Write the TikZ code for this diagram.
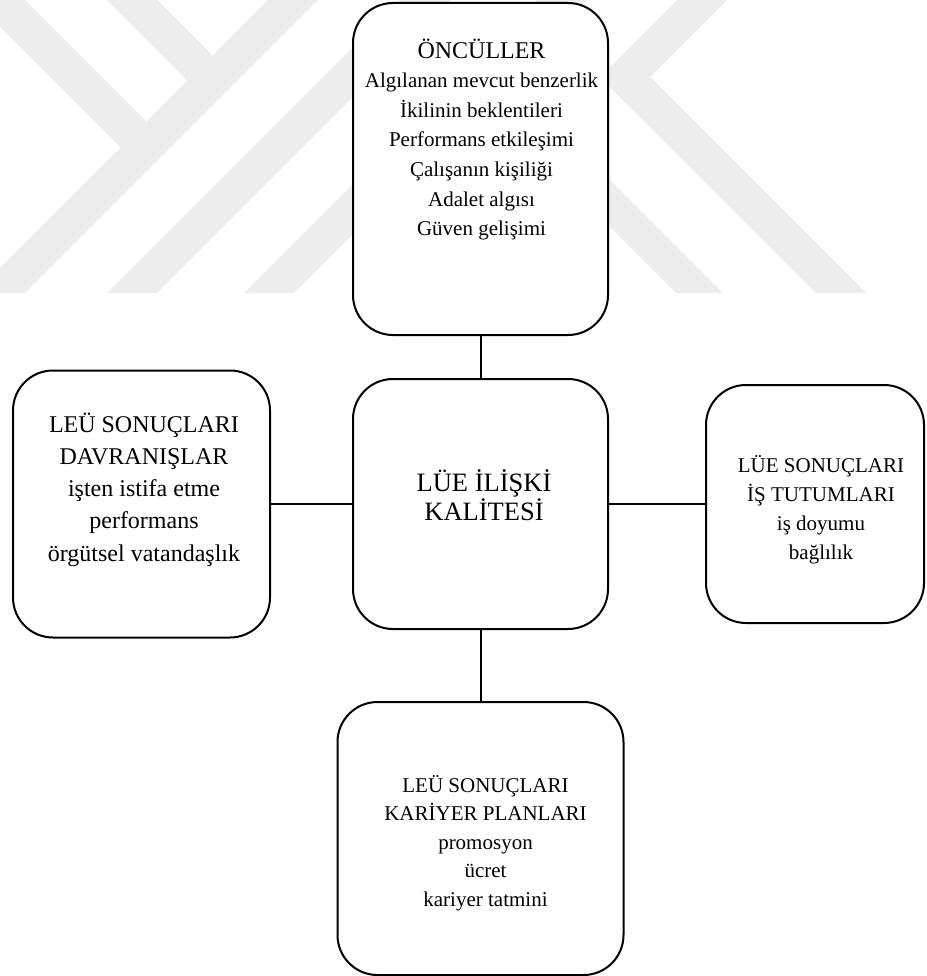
\documentclass[tikz,border=0pt]{standalone}
\usepackage{fontspec}
\setmainfont{Liberation Serif}
\begin{document}
\begin{tikzpicture}[x=1pt,y=-1pt,
  card/.style={draw=black, line width=2pt, fill=white, rounded corners=40pt, inner sep=0pt},
  txt/.style={align=center, inner sep=0pt, text=black},
  wire/.style={draw=black, line width=2pt},
  wmark/.style={fill=black!7, draw=none}]
\useasboundingbox (0,0) rectangle (926,976);

% faint chevron watermark in the upper part of the page
\begin{scope}
  \clip (0,0) rectangle (926,293);
  \fill[wmark] (-27,0) -- (25,0) -- (146.5,121.5) -- (120.5,147.5) -- cycle;
  \fill[wmark] (107,0) -- (157,0) -- (212.5,55.5) -- (187.5,80.5) -- cycle;
  \fill[wmark] (268,0) -- (318,0) -- (25,293) -- (-25,293) -- cycle;
  \fill[wmark] (400,0) -- (450,0) -- (157,293) -- (107,293) -- cycle;
  \fill[wmark] (537,0) -- (587,0) -- (294,293) -- (244,293) -- cycle;
  \fill[wmark] (677,0) -- (727,0) -- (625,102) -- (600,77) -- cycle;
  \fill[wmark] (600,77) -- (650,77) -- (866,293) -- (816,293) -- cycle;
  \fill[wmark] (533,150) -- (580,150) -- (723,293) -- (676,293) -- cycle;
\end{scope}

% boxes
\node[card, minimum width=255pt, minimum height=332pt] (pre) at (480.5,169) {};
\node[card, minimum width=255pt, minimum height=250pt] (mid) at (480.5,504) {};
\node[card, minimum width=257pt, minimum height=267pt] (lft) at (141.5,504) {};
\node[card, minimum width=218pt, minimum height=238pt] (rgt) at (815,504) {};
\node[card, minimum width=286pt, minimum height=273pt] (bot) at (480.5,838.5) {};

% connectors
\draw[wire] (pre.south) -- (mid.north);
\draw[wire] (lft.east) -- (mid.west);
\draw[wire] (mid.east) -- (rgt.west);
\draw[wire] (mid.south) -- (bot.north);

% texts
\node[txt, font=\fontsize{21}{29.6}\selectfont] (preText) at (481.5,139.5)
  {{\fontsize{24}{29.6}\selectfont ÖNCÜLLER}\\ Algılanan mevcut benzerlik\\ İkilinin beklentileri\\
   Performans etkileşimi\\ Çalışanın kişiliği\\ Adalet algısı\\ Güven gelişimi};
\node[txt, font=\fontsize{26.5}{29}\selectfont] (midText) at (484,495.5)
  {LÜE İLİŞKİ\\ KALİTESİ};
\node[txt, font=\fontsize{24}{32.2}\selectfont] (lftText) at (144,489.5)
  {LEÜ SONUÇLARI\\ DAVRANIŞLAR\\ işten istifa etme\\ performans\\ örgütsel vatandaşlık};
\node[txt, font=\fontsize{21}{29}\selectfont] (rgtText) at (821,510)
  {LÜE SONUÇLARI\\ İŞ TUTUMLARI\\ iş doyumu\\ bağlılık};
\node[txt, font=\fontsize{21}{28.5}\selectfont] (botText) at (485.5,843)
  {LEÜ SONUÇLARI\\ KARİYER PLANLARI\\ promosyon\\ ücret\\ kariyer tatmini};
\end{tikzpicture}
\end{document}
